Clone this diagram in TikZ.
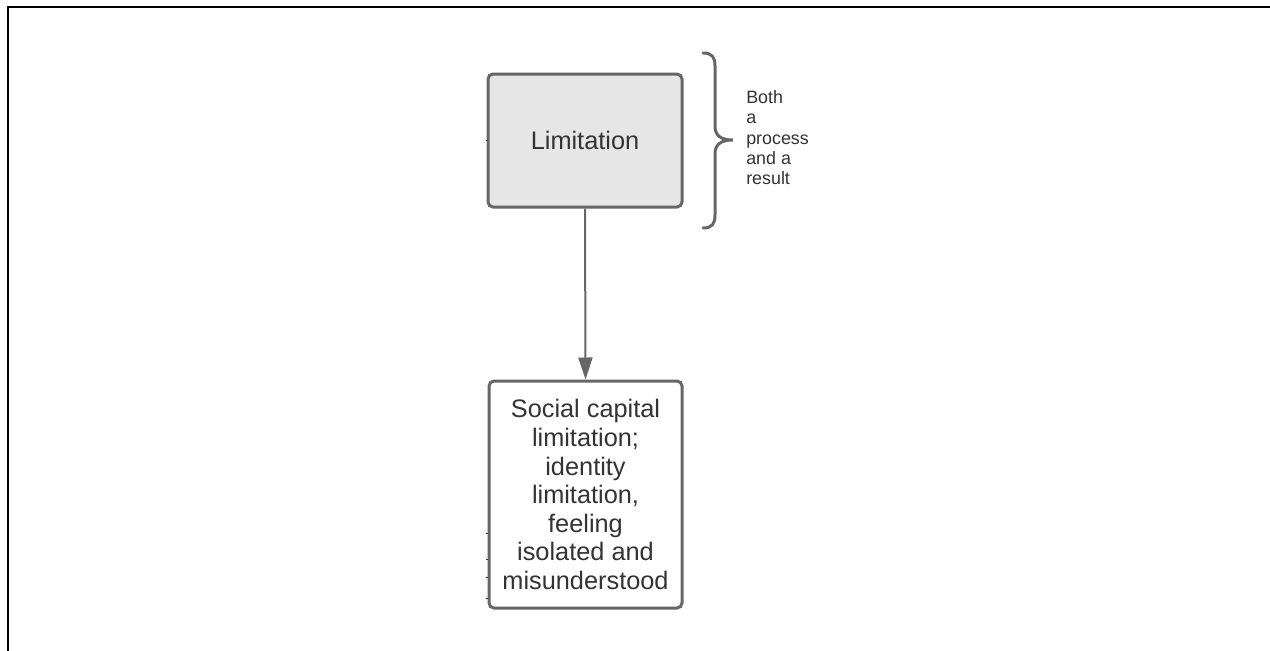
\documentclass[tikz,border=0pt]{standalone}
\usepackage{fontspec}
\setmainfont{Liberation Sans}
\usetikzlibrary{arrows.meta}
\definecolor{boxline}{HTML}{666666}
\definecolor{boxfill}{HTML}{E6E6E6}
\definecolor{ink}{HTML}{333333}
\begin{document}
\begin{tikzpicture}[x=0.75pt,y=-0.75pt,
  frame/.style={line width=2.5*0.75pt,black},
  stepbox/.style={draw=boxline,line width=3*0.75pt,rounded corners=5*0.75pt,text=ink,
    align=center,inner sep=0pt,font=\fontsize{19pt}{21.4pt}\selectfont},
  flow/.style={draw=boxline,line width=2*0.75pt,-{Triangle[length=22*0.75pt,width=14*0.75pt]}},
  bracket/.style={draw=boxline,line width=3*0.75pt,line cap=round},
  note/.style={text=ink,align=left,inner sep=0pt,font=\fontsize{13.4pt}{15.3pt}\selectfont},
  tick/.style={draw=ink,line width=0.9*0.75pt}]
\useasboundingbox (0,0) rectangle (1270,650);
% page frame
\draw[frame] (1272,7) -- (8,7) -- (8,652);
% boxes
\node[stepbox,fill=boxfill,minimum width=194*0.75pt,minimum height=133*0.75pt] (lim) at (585,140.5) {Limitation};
\node[stepbox,fill=white,minimum width=193*0.75pt,minimum height=227*0.75pt] (soc) at (585.5,494.5)
  {Social capital\\limitation;\\identity\\limitation,\\feeling\\isolated and\\misunderstood};
% connector
\draw[flow] (lim.south) -- (soc.north);
% brace with its note
\draw[bracket] (703,53) .. controls (712,53) and (715,57) .. (715,66) -- (715,126)
  .. controls (715,135) and (720,140) .. (733,140)
  .. controls (720,140) and (715,145) .. (715,154) -- (715,215)
  .. controls (715,224) and (712,228) .. (703,228);
\node[note,anchor=north west] (both) at (746,90) {Both\\a\\process\\and a\\result};
% small marks on the left edges
\coordinate (m0) at (486,140);
\draw[tick] (m0) -- ++(2,0);
\foreach \yy in {533,559,577,598} \draw[tick] (486,\yy) -- ++(2,0);
\end{tikzpicture}
\end{document}
